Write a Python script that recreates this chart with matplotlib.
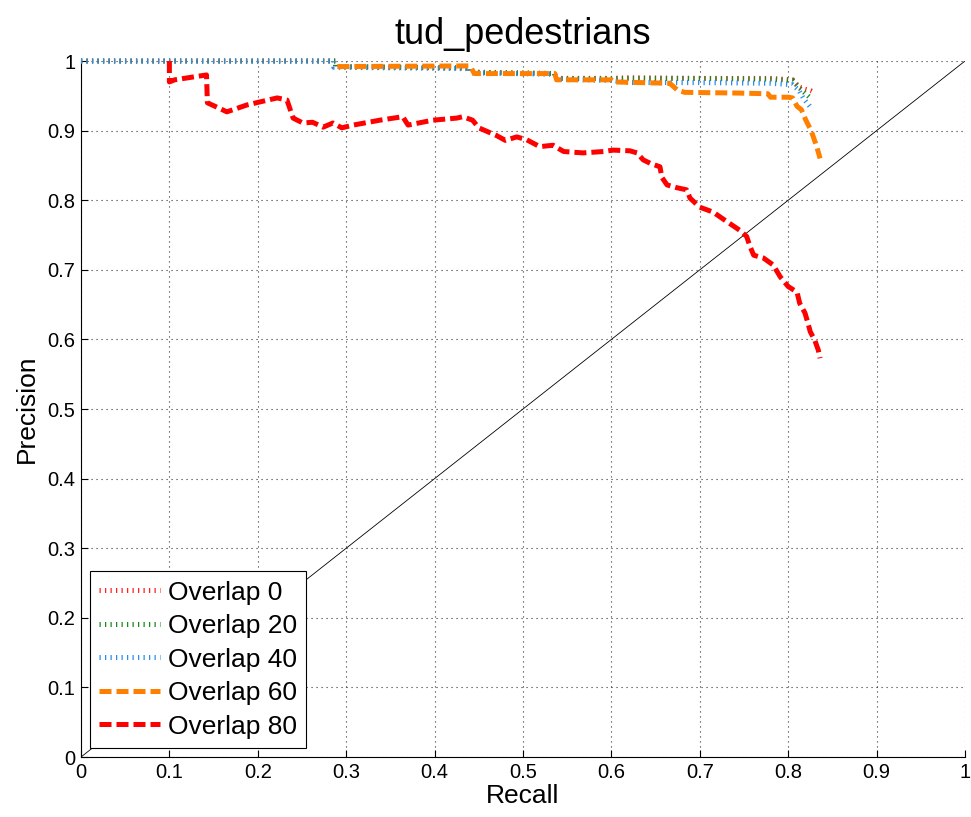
import matplotlib
matplotlib.use("Agg")
import matplotlib.pyplot as plt
from matplotlib.ticker import FuncFormatter

plt.rcParams['font.family'] = ['Liberation Sans', 'DejaVu Sans']

# Precision/recall curves for each overlap threshold
rec_0 = [0.000, 0.288, 0.288, 0.440, 0.440, 0.536, 0.536, 0.600, 0.620, 0.700, 0.780, 0.805, 0.812, 0.818, 0.826, 0.829]
prec_0 = [1.000, 1.000, 0.992, 0.990, 0.984, 0.982, 0.975, 0.975, 0.976, 0.975, 0.975, 0.973, 0.963, 0.960, 0.957, 0.955]

rec_20 = [0.000, 0.288, 0.288, 0.440, 0.440, 0.536, 0.536, 0.600, 0.620, 0.700, 0.780, 0.805, 0.812, 0.818, 0.825]
prec_20 = [1.000, 1.000, 0.992, 0.990, 0.984, 0.982, 0.975, 0.975, 0.975, 0.975, 0.974, 0.972, 0.962, 0.955, 0.947]

rec_40 = [0.000, 0.286, 0.286, 0.440, 0.440, 0.536, 0.536, 0.600, 0.620, 0.700, 0.780, 0.805, 0.812, 0.818, 0.827]
prec_40 = [1.000, 1.000, 0.991, 0.989, 0.983, 0.981, 0.974, 0.972, 0.969, 0.969, 0.968, 0.966, 0.958, 0.945, 0.931]

rec_60 = [0.290, 0.440, 0.445, 0.536, 0.538, 0.600, 0.602, 0.666, 0.675, 0.683, 0.742, 0.777, 0.780, 0.800, 0.805,
          0.810, 0.815, 0.820, 0.826, 0.832, 0.835, 0.836]
prec_60 = [0.992, 0.993, 0.982, 0.982, 0.973, 0.973, 0.970, 0.968, 0.958, 0.955, 0.954, 0.953, 0.948, 0.948, 0.947,
           0.935, 0.930, 0.915, 0.900, 0.878, 0.865, 0.860]

rec_80 = [0.100, 0.100, 0.106, 0.142, 0.143, 0.160, 0.165, 0.188, 0.222, 0.233, 0.240, 0.251, 0.262, 0.274, 0.285,
          0.295, 0.308, 0.338, 0.364, 0.370, 0.398, 0.425, 0.432, 0.443, 0.450, 0.470, 0.480, 0.493, 0.504, 0.519,
          0.534, 0.546, 0.568, 0.591, 0.602, 0.621, 0.629, 0.636, 0.644, 0.655, 0.657, 0.663, 0.674, 0.685, 0.689,
          0.700, 0.715, 0.731, 0.745, 0.753, 0.757, 0.761, 0.772, 0.783, 0.791, 0.800, 0.810, 0.813, 0.819, 0.822,
          0.825, 0.830, 0.834, 0.836]
prec_80 = [1.000, 0.970, 0.973, 0.980, 0.940, 0.930, 0.927, 0.937, 0.947, 0.944, 0.918, 0.911, 0.912, 0.905, 0.911,
           0.904, 0.908, 0.915, 0.920, 0.908, 0.915, 0.918, 0.920, 0.915, 0.904, 0.893, 0.886, 0.891, 0.887, 0.877,
           0.879, 0.870, 0.868, 0.870, 0.872, 0.871, 0.868, 0.858, 0.853, 0.848, 0.833, 0.822, 0.818, 0.815, 0.803,
           0.790, 0.783, 0.769, 0.757, 0.748, 0.733, 0.721, 0.717, 0.707, 0.690, 0.676, 0.668, 0.652, 0.638, 0.625,
           0.611, 0.599, 0.585, 0.573]

labels = ["Overlap 0", "Overlap 20", "Overlap 40", "Overlap 60", "Overlap 80"]
ticks = [0, 0.1, 0.2, 0.3, 0.4, 0.5, 0.6, 0.7, 0.8, 0.9, 1]

fig = plt.figure(figsize=(9.71, 8.17), dpi=100)
ax = fig.add_axes([0.0834, 0.0734, 0.9104, 0.8519])

# equal-precision reference diagonal
ax.plot([0, 1], [0, 1], color='black', lw=0.6, zorder=1)

dotted = (0, (0.25, 0.85))
dashed = (0, (2.4, 1.0))
ax.plot(rec_0, prec_0, color='#ff2020', lw=3.6, ls=dotted, label=labels[0], clip_on=False, zorder=3)
ax.plot(rec_20, prec_20, color='#1a8a1a', lw=3.6, ls=dotted, label=labels[1], clip_on=False, zorder=3)
ax.plot(rec_40, prec_40, color='#2a8cf0', lw=3.6, ls=dotted, label=labels[2], clip_on=False, zorder=3)
ax.plot(rec_60, prec_60, color='#ff8000', lw=3.6, ls=dashed, label=labels[3], clip_on=False, zorder=4)
ax.plot(rec_80, prec_80, color='#ff0000', lw=3.6, ls=dashed, label=labels[4], clip_on=False, zorder=5)

ax.set_xlim(0, 1)
ax.set_ylim(0, 1)
ax.set_xticks(ticks)
ax.set_yticks(ticks)
fmt = FuncFormatter(lambda v, p: ('%g' % round(v, 2)))
ax.xaxis.set_major_formatter(fmt)
ax.yaxis.set_major_formatter(fmt)
ax.tick_params(direction='in', length=5, width=0.8, labelsize=14.5, pad=4)
ax.grid(True, color='black', lw=0.8, ls=(0, (1, 3.5)), alpha=0.8)
ax.set_axisbelow(True)
for s in ['top', 'right']:
    ax.spines[s].set_visible(False)
for s in ['left', 'bottom']:
    ax.spines[s].set_linewidth(0.8)

ax.set_title("tud_pedestrians", fontsize=26, pad=12)
ax.set_xlabel("Recall", fontsize=19, labelpad=2)
ax.set_ylabel("Precision", fontsize=19, labelpad=6)

leg = ax.legend(loc='lower left', fontsize=19, handlelength=2.3, handletextpad=0.3,
                labelspacing=0.36, borderpad=0.35, borderaxespad=0.35, fancybox=False,
                framealpha=1, edgecolor='black')
leg.get_frame().set_linewidth(0.8)
leg.set_zorder(10)

fig.savefig("out.png", dpi=100)
